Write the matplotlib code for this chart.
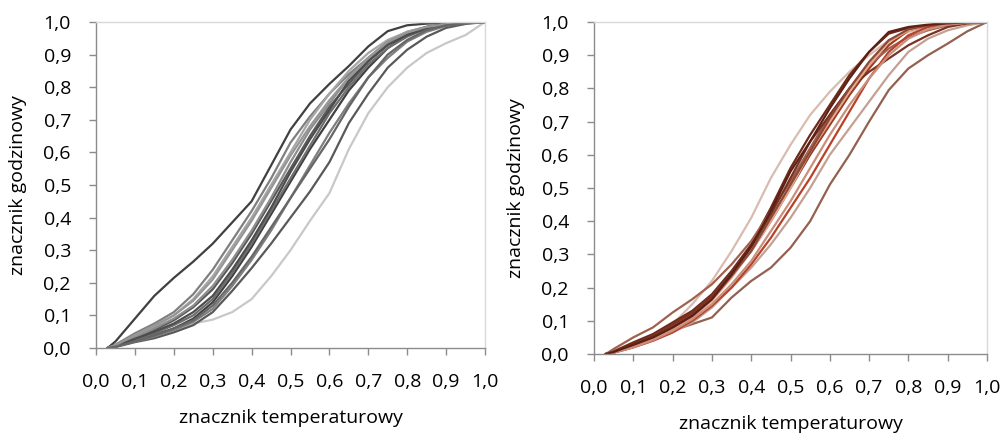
import matplotlib
matplotlib.use("Agg")
import matplotlib.pyplot as plt

plt.rcParams['font.family'] = ['Open Sans', 'DejaVu Sans']

# wspólne punkty na osi x (znacznik temperaturowy)
x_pts = [0.03, 0.05, 0.1, 0.15, 0.2, 0.25, 0.3, 0.35, 0.4, 0.45, 0.5,
         0.55, 0.6, 0.65, 0.7, 0.75, 0.8, 0.85, 0.9, 0.95, 1.0]

# lewy wykres - szare krzywe
gray_curves = [
    [0, 0.02, 0.09, 0.16, 0.215, 0.265, 0.32, 0.385, 0.45, 0.56, 0.67, 0.75, 0.81, 0.865, 0.925, 0.972, 0.99, 0.995, 0.997, 0.999, 1],
    [0, 0.005, 0.02, 0.035, 0.055, 0.075, 0.087, 0.11, 0.15, 0.22, 0.30, 0.39, 0.475, 0.61, 0.72, 0.80, 0.86, 0.905, 0.935, 0.96, 1.0],
    [0, 0.01, 0.045, 0.075, 0.11, 0.165, 0.24, 0.33, 0.42, 0.52, 0.63, 0.71, 0.78, 0.84, 0.89, 0.94, 0.97, 0.985, 0.994, 0.998, 1],
    [0, 0.008, 0.035, 0.065, 0.1, 0.15, 0.22, 0.31, 0.40, 0.50, 0.60, 0.70, 0.78, 0.85, 0.905, 0.945, 0.97, 0.985, 0.993, 0.998, 1],
    [0, 0.006, 0.03, 0.055, 0.085, 0.125, 0.18, 0.26, 0.35, 0.45, 0.55, 0.65, 0.74, 0.81, 0.88, 0.93, 0.965, 0.985, 0.994, 0.998, 1],
    [0, 0.007, 0.032, 0.06, 0.09, 0.13, 0.19, 0.27, 0.36, 0.46, 0.57, 0.67, 0.75, 0.83, 0.89, 0.935, 0.965, 0.98, 0.99, 0.997, 1],
    [0, 0.004, 0.022, 0.04, 0.06, 0.09, 0.14, 0.22, 0.31, 0.41, 0.51, 0.61, 0.70, 0.79, 0.86, 0.92, 0.96, 0.98, 0.992, 0.997, 1],
    [0, 0.005, 0.025, 0.045, 0.07, 0.10, 0.15, 0.23, 0.32, 0.42, 0.52, 0.62, 0.72, 0.80, 0.87, 0.92, 0.955, 0.98, 0.99, 0.997, 1],
    [0, 0.003, 0.018, 0.03, 0.048, 0.07, 0.11, 0.175, 0.245, 0.32, 0.40, 0.48, 0.57, 0.69, 0.78, 0.86, 0.915, 0.955, 0.982, 0.994, 1],
    [0, 0.004, 0.02, 0.035, 0.055, 0.08, 0.12, 0.19, 0.27, 0.36, 0.46, 0.56, 0.66, 0.75, 0.83, 0.89, 0.94, 0.97, 0.988, 0.996, 1],
    [0, 0.005, 0.028, 0.05, 0.075, 0.11, 0.16, 0.24, 0.33, 0.43, 0.54, 0.64, 0.73, 0.82, 0.88, 0.93, 0.96, 0.98, 0.99, 0.997, 1],
    [0, 0.008, 0.04, 0.07, 0.1, 0.145, 0.21, 0.30, 0.39, 0.49, 0.59, 0.68, 0.76, 0.83, 0.89, 0.94, 0.968, 0.985, 0.993, 0.998, 1],
    [0, 0.004, 0.02, 0.038, 0.06, 0.085, 0.13, 0.2, 0.28, 0.37, 0.46, 0.55, 0.64, 0.74, 0.83, 0.90, 0.945, 0.975, 0.99, 0.997, 1],
]
gray_colors = ['#404040', '#c8c8c8', '#7f7f7f', '#a6a6a6', '#595959', '#8c8c8c', '#404040',
               '#6e6e6e', '#595959', '#7f7f7f', '#4d4d4d', '#969696', '#666666']

# prawy wykres - brązowe krzywe
brown_curves = [
    [0, 0.005, 0.03, 0.05, 0.07, 0.09, 0.11, 0.17, 0.22, 0.26, 0.32, 0.40, 0.51, 0.60, 0.70, 0.795, 0.86, 0.90, 0.935, 0.972, 1],
    [0, 0.005, 0.025, 0.05, 0.09, 0.15, 0.22, 0.31, 0.41, 0.53, 0.63, 0.72, 0.79, 0.85, 0.9, 0.945, 0.97, 0.985, 0.993, 0.998, 1],
    [0, 0.004, 0.02, 0.04, 0.065, 0.095, 0.14, 0.2, 0.26, 0.33, 0.41, 0.5, 0.6, 0.68, 0.76, 0.84, 0.91, 0.95, 0.975, 0.99, 1],
    [0, 0.008, 0.035, 0.06, 0.095, 0.13, 0.18, 0.25, 0.33, 0.44, 0.56, 0.66, 0.75, 0.84, 0.91, 0.965, 0.982, 0.99, 0.995, 0.998, 1],
    [0, 0.005, 0.025, 0.05, 0.085, 0.12, 0.17, 0.24, 0.31, 0.40, 0.50, 0.60, 0.69, 0.78, 0.86, 0.93, 0.975, 0.99, 0.995, 0.998, 1],
    [0, 0.015, 0.05, 0.08, 0.125, 0.165, 0.21, 0.27, 0.34, 0.43, 0.52, 0.62, 0.72, 0.80, 0.87, 0.92, 0.955, 0.975, 0.99, 0.997, 1],
    [0, 0.006, 0.03, 0.055, 0.09, 0.125, 0.175, 0.245, 0.32, 0.42, 0.53, 0.64, 0.72, 0.80, 0.85, 0.89, 0.93, 0.96, 0.985, 0.996, 1],
    [0, 0.004, 0.022, 0.045, 0.075, 0.11, 0.16, 0.23, 0.31, 0.40, 0.50, 0.61, 0.70, 0.79, 0.87, 0.94, 0.975, 0.99, 0.995, 0.998, 1],
    [0, 0.004, 0.02, 0.04, 0.065, 0.1, 0.145, 0.2, 0.27, 0.35, 0.44, 0.53, 0.63, 0.73, 0.83, 0.91, 0.96, 0.985, 0.994, 0.998, 1],
    [0, 0.005, 0.027, 0.05, 0.08, 0.115, 0.165, 0.235, 0.31, 0.41, 0.51, 0.61, 0.71, 0.80, 0.88, 0.945, 0.978, 0.99, 0.995, 0.998, 1],
    [0, 0.004, 0.02, 0.042, 0.07, 0.105, 0.15, 0.21, 0.28, 0.37, 0.46, 0.56, 0.66, 0.75, 0.83, 0.90, 0.95, 0.978, 0.992, 0.998, 1],
    [0, 0.006, 0.028, 0.05, 0.08, 0.115, 0.165, 0.24, 0.325, 0.43, 0.55, 0.64, 0.74, 0.83, 0.91, 0.97, 0.985, 0.992, 0.996, 0.999, 1],
]
brown_colors = ['#94604f', '#d9bcb0', '#c4a092', '#6b2a1a', '#9c3a1f', '#a0614f', '#7a3322',
                '#e8a890', '#b8412a', '#8a4a38', '#c98f7c', '#5e2015']

tick_vals = [0.0, 0.1, 0.2, 0.3, 0.4, 0.5, 0.6, 0.7, 0.8, 0.9, 1.0]
tick_labels = ['0,0', '0,1', '0,2', '0,3', '0,4', '0,5', '0,6', '0,7', '0,8', '0,9', '1,0']

fig = plt.figure(figsize=(10.01, 4.34), dpi=100)
ax1 = fig.add_axes([96 / 1001, 86 / 434, 389 / 1001, 326 / 434])
ax2 = fig.add_axes([594 / 1001, 80 / 434, 393 / 1001, 332 / 434])

for ax, curves, colors in [(ax1, gray_curves, gray_colors), (ax2, brown_curves, brown_colors)]:
    for ys, c in zip(curves, colors):
        ax.plot(x_pts, ys, color=c, lw=1.6, solid_joinstyle='round')
    ax.set_xlim(0, 1)
    ax.set_ylim(0, 1)
    ax.set_xticks(tick_vals)
    ax.set_xticklabels(tick_labels)
    ax.set_yticks(tick_vals)
    ax.set_yticklabels(tick_labels)
    ax.tick_params(labelsize=14, length=5, width=1, color='#8c8c8c', pad=13)
    for side in ['top', 'right']:
        ax.spines[side].set_color('#d9d9d9')
        ax.spines[side].set_linewidth(1)
    for side in ['left', 'bottom']:
        ax.spines[side].set_color('#8c8c8c')
        ax.spines[side].set_linewidth(1)
    ax.set_xlabel('znacznik temperaturowy', fontsize=14, labelpad=13)
    ax.set_ylabel('znacznik godzinowy', fontsize=14, labelpad=12)

fig.savefig('out.png', dpi=100)
